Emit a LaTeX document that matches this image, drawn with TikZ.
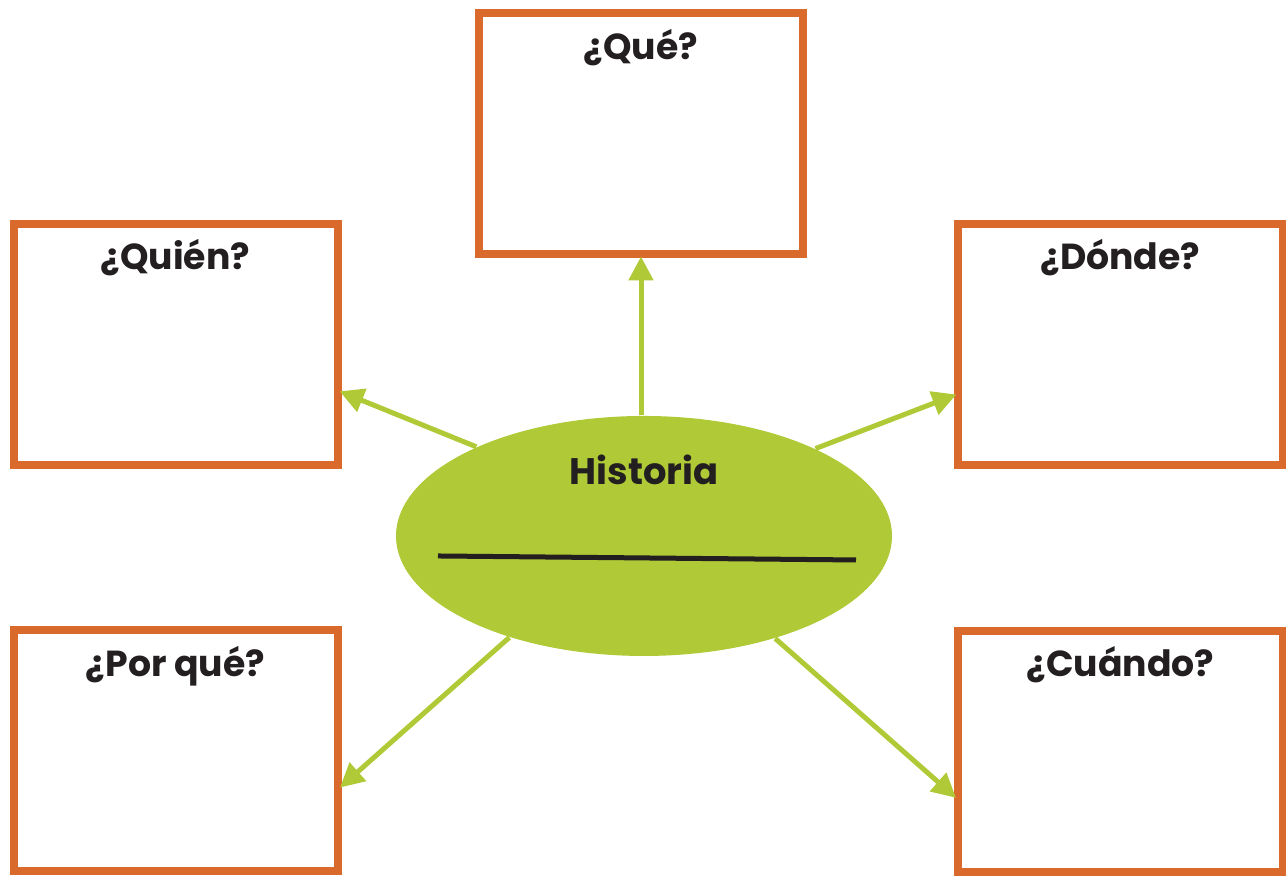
\documentclass[tikz,border=0pt]{standalone}
\usepackage{fontspec}
\setmainfont{Poppins}
\usetikzlibrary{calc,shapes.geometric,arrows.meta}
\definecolor{naranja}{RGB}{217,106,44}
\definecolor{verde}{RGB}{175,202,54}
\definecolor{tinta}{RGB}{35,31,32}
\tikzset{
	caja/.style={draw=naranja, line width=0.08cm, minimum width=3.24cm, minimum height=2.41cm, inner sep=0pt},
	titulo/.style={anchor=north, yshift=-0.07cm, font=\fontsize{10.3}{12}\selectfont\bfseries, text=tinta},
	flecha/.style={draw=verde, line width=0.05cm, -{Triangle[length=0.24cm,width=0.24cm]}, shorten >=-0.02cm}
}

\begin{document}
\begin{tikzpicture}
			%%%%% START %%%%%
			
			\useasboundingbox (0, 0) rectangle (12.86, 8.76);
			
			\node[caja, label={[titulo]north:¿Qué?}] (que) at (6.41, 7.42) {};
			\node[caja, label={[titulo]north:¿Quién?}] (quien) at (1.755, 5.315) {};
			\node[caja, label={[titulo]north:¿Dónde?}] (donde) at (11.205, 5.315) {};
			\node[caja, label={[titulo]north:¿Por qué?}] (porque) at (1.755, 1.25) {};
			\node[caja, label={[titulo]north:¿Cuándo?}] (cuando) at (11.205, 1.24) {};
			
			\node[ellipse, fill=verde, minimum width=4.96cm, minimum height=2.40cm, inner sep=0pt,
				label={[yshift=0.66cm, font=\fontsize{10.5}{13}\selectfont\bfseries, text=tinta]center:Historia}] (hist) at (6.44, 3.40) {};
			\draw[tinta, line width=0.05cm] ($(hist.center)+(-2.06, -0.20)$) -- ($(hist.center)+(2.12, -0.24)$);
			
			\draw[flecha] (hist.north -| que.south) -- (que.south);
			\draw[flecha] (hist.152.4) -- (quien.-16);
			\draw[flecha] (hist.27.2) -- (donde.197);
			\draw[flecha] (hist.217.8) -- (porque.-12.8);
			\draw[flecha] (hist.-38.6) -- (cuando.195.5);
			
			%%%%% END %%%%%
		\end{tikzpicture}
\end{document}
